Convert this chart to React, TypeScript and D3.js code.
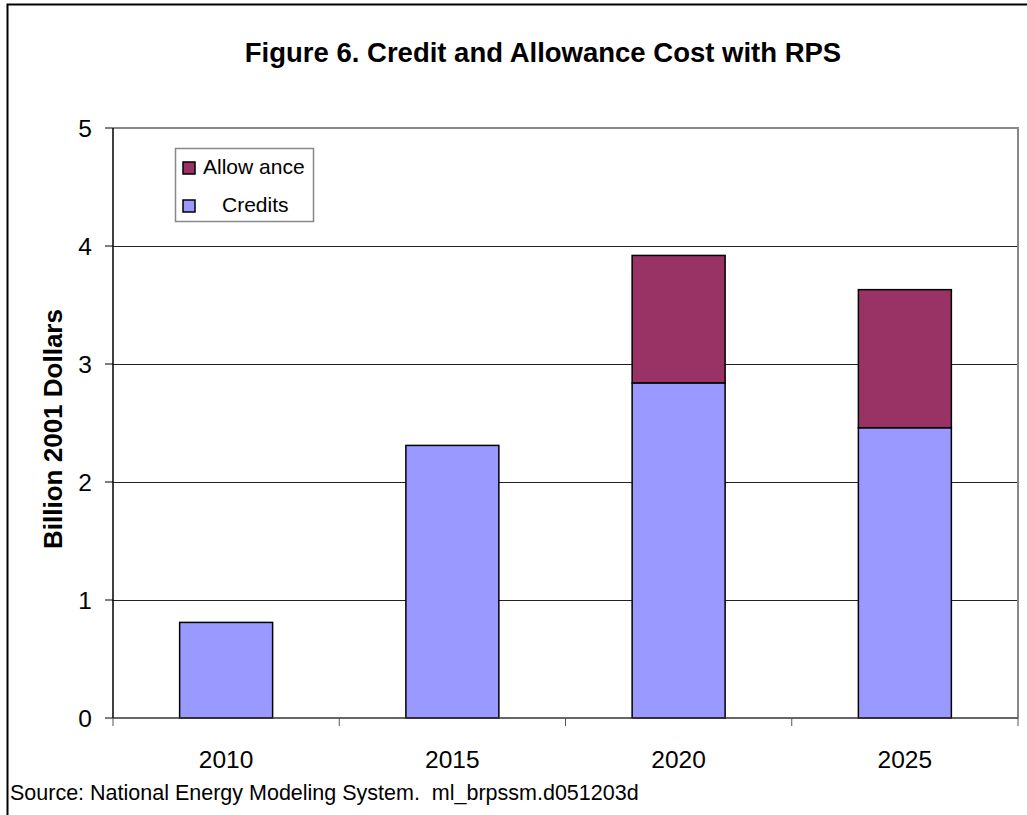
import React from "react";
import * as d3 from "d3";

const years = ["2010", "2015", "2020", "2025"];
const credits = [0.81, 2.31, 2.84, 2.46];
const allowance = [0, 0, 1.08, 1.17];
const yTicks = [0, 1, 2, 3, 4, 5];
const seriesNames = ["Allowance", "Credits"];
const seriesLabels = ["Allow ance", "Credits"];
const colors = { Credits: "#9999FF", Allowance: "#993366" };

const W = 1027;
const H = 815;
const plot = { left: 113, right: 1018, top: 128, bottom: 718 };
const font = "Arial, 'Liberation Sans', Helvetica, sans-serif";

export default function App() {
  const x = d3
    .scaleBand<string>()
    .domain(years)
    .range([plot.left, plot.right])
    .paddingInner(0.589)
    .paddingOuter(0.2945);
  const y = d3.scaleLinear().domain([0, 5]).range([plot.bottom, plot.top]);
  const step = (plot.right - plot.left) / years.length;

  const rows = years.map((yr, i) => ({ year: yr, Credits: credits[i], Allowance: allowance[i] }));
  const stack = d3.stack<any>().keys(["Credits", "Allowance"])(rows);

  return (
    <svg
      width={W}
      height={H}
      style={{ position: "absolute", left: 0, top: 0, background: "#fff" }}
      fontFamily={font}
    >
      <rect x={0} y={0} width={W} height={H} fill="#fff" />
      {/* outer frame */}
      <path d={`M7.5,${H + 5} V4.5 H${W + 5}`} fill="none" stroke="#000" strokeWidth={2} />
      <text x={543} y={62} textAnchor="middle" fontWeight="bold" fontSize={27.5} fill="#000">
        Figure 6. Credit and Allowance Cost with RPS
      </text>
      {/* gridlines */}
      {yTicks
        .filter((t) => t > 0 && t < 5)
        .map((t) => (
          <line
            key={t}
            x1={plot.left}
            x2={plot.right}
            y1={Math.round(y(t)) + 0.5}
            y2={Math.round(y(t)) + 0.5}
            stroke="#222"
            strokeWidth={1}
          />
        ))}
      {/* plot border top/right */}
      <path
        d={`M${plot.left},${plot.top} H${plot.right} V${plot.bottom}`}
        fill="none"
        stroke="#888"
        strokeWidth={2}
      />
      {/* bars */}
      {stack.map((layer) =>
        layer.map((d, i) => {
          const v = d[1] - d[0];
          if (v <= 0) return null;
          return (
            <rect
              key={layer.key + i}
              x={x(years[i])!}
              y={y(d[1])}
              width={x.bandwidth()}
              height={y(d[0]) - y(d[1])}
              fill={(colors as any)[layer.key]}
              stroke="#000"
              strokeWidth={1.5}
            />
          );
        })
      )}
      {/* y axis */}
      <line x1={plot.left} x2={plot.left} y1={plot.top} y2={plot.bottom} stroke="#000" strokeWidth={1.5} />
      {yTicks.map((t) => (
        <g key={t}>
          <line x1={plot.left - 8} x2={plot.left} y1={y(t)} y2={y(t)} stroke="#000" strokeWidth={1} />
          <text x={92} y={y(t) + 8.7} textAnchor="end" fontSize={24.5} fill="#000">
            {t}
          </text>
        </g>
      ))}
      {/* x axis */}
      <line x1={plot.left} x2={plot.right} y1={plot.bottom} y2={plot.bottom} stroke="#333" strokeWidth={1.5} />
      {d3.range(years.length + 1).map((i) => (
        <line
          key={i}
          x1={plot.left + i * step}
          x2={plot.left + i * step}
          y1={plot.bottom}
          y2={plot.bottom + 8}
          stroke="#555"
          strokeWidth={1}
        />
      ))}
      {years.map((yr) => (
        <text key={yr} x={x(yr)! + x.bandwidth() / 2} y={768} textAnchor="middle" fontSize={24.5} fill="#000">
          {yr}
        </text>
      ))}
      <text
        transform={`translate(61.5,429) rotate(-90)`}
        textAnchor="middle"
        fontWeight="bold"
        fontSize={26}
        fill="#000"
      >
        Billion 2001 Dollars
      </text>
      {/* legend */}
      <rect x={175.5} y={148.5} width={138} height={73} fill="#fff" stroke="#888" strokeWidth={1.5} />
      {seriesNames.map((s, i) => (
        <g key={s}>
          <rect
            x={183}
            y={162 + i * 38}
            width={12}
            height={12}
            fill={(colors as any)[s]}
            stroke="#000"
            strokeWidth={1.5}
          />
          <text x={i === 0 ? 203 : 222} y={173.5 + i * 38.8} fontSize={21} fill="#000">
            {seriesLabels[i]}
          </text>
        </g>
      ))}
      <text x={10} y={800} fontSize={21.5} fill="#000">
        Source: National Energy Modeling System.{"\u00a0\u00a0"}ml_brpssm.d051203d
      </text>
    </svg>
  );
}
